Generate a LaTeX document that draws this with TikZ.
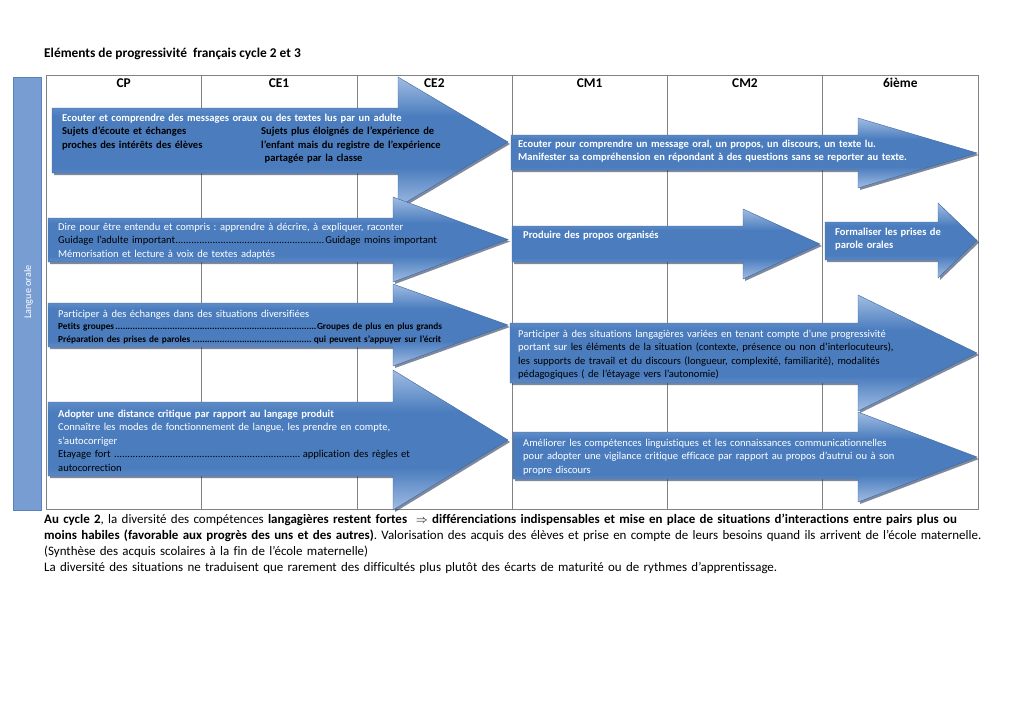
\documentclass[tikz,border=0pt]{standalone}
\usepackage{fontspec}
\setmainfont{Carlito}[Ligatures=NoCommon]
\frenchspacing
\usetikzlibrary{calc}
\definecolor{fleche}{RGB}{75,125,190}
\definecolor{flecheclaire}{RGB}{160,188,226}
\definecolor{flechebord}{RGB}{62,102,160}
\definecolor{ombre}{RGB}{40,58,92}
\definecolor{barre}{RGB}{120,157,210}
\definecolor{barrebord}{RGB}{92,130,188}
\definecolor{grille}{RGB}{130,130,130}
\pgfdeclareverticalshading{degrade}{100bp}{color(0bp)=(flecheclaire); color(25bp)=(flecheclaire); color(40bp)=(fleche); color(60bp)=(fleche); color(75bp)=(flecheclaire); color(100bp)=(flecheclaire)}

\newcommand\petit{\fontsize{10.55}{13.4}\selectfont}
\newcommand\normale{\fontsize{12.95}{16.3}\selectfont}
\newcommand\grand{\fontsize{13.4}{16.3}\selectfont}
\newcommand\minuscule{\fontsize{9.3}{12.5}\selectfont}
% ligne pointillee de largeur fixe
\newcommand\ligne[3]{\leavevmode\hbox to #1{#2\leaders\hbox{.}\hfill #3}}
% fleche: x0, haut, bas, base de la pointe, haut pointe, bas pointe, x pointe
\newcommand\fleche[7]{%
	\fill[ombre, opacity=0.6, xshift=2pt, yshift=-2pt] (#1,#2) -- (#4,#2) -- (#4,#5) -- (#7,{(#5+#6)/2}) -- (#4,#6) -- (#4,#3) -- (#1,#3) -- cycle;
	\shade[draw=flechebord, shading=degrade] (#1,#2) -- (#4,#2) -- (#4,#5) -- (#7,{(#5+#6)/2}) -- (#4,#6) -- (#4,#3) -- (#1,#3) -- cycle;
}

\begin{document}
\begin{tikzpicture}[x=1pt, y=-1pt,
	texte/.style={anchor=base west, inner sep=0pt, text width=#1, align=left, font=\petit, text=white},
	texte/.default=430pt,
	titre/.style={anchor=base, inner sep=0pt, font=\grand\bfseries}]

	\useasboundingbox (0,0) rectangle (1024,725);

	\node[titre, anchor=base west] (titre) at (44,57) {Eléments de progressivité~ français cycle 2 et 3};

	% barre laterale
	\draw[draw=barrebord, fill=barre] (13,77) rectangle (41,510);
	\node[rotate=90, text=white, font=\fontsize{10.2}{11}\selectfont] (langue) at (28.5,292) {Langue orale};

	% tableau
	\draw[grille] (46,75) rectangle (978,509);
	\foreach \x in {201,357,512,667,822}
		\draw[grille] (\x,75) -- (\x,509);
	\foreach \niveau [count=\i] in {CP,CE1,CE2,CM1,CM2,6ième}
		\node[titre] (niveau\i) at ({46+155.33*(\i-0.5)},87.5) {\niveau};

	% fleches cycle 2
	\fleche{52}{108}{173}{398}{77}{207}{508}
	\fleche{48}{218}{262}{393}{197}{282}{508}
	\fleche{48}{303}{347}{393}{284}{366}{508}
	\fleche{48}{402}{476}{393}{370}{510}{508}
	% fleches cycle 3
	\fleche{511}{135}{170}{858}{118}{188}{977}
	\fleche{512}{226}{262}{743}{209}{279}{820}
	\fleche{825}{222}{260}{938}{203}{278}{977}
	\fleche{510}{323}{383}{858}{295}{411}{977}
	\fleche{513}{432}{479}{858}{412}{502}{977}

	\node[texte] (ecouter) at (62,121.5) {\textbf{Ecouter et  comprendre des messages oraux ou des textes lus par un adulte}\\
		\color{black}\bfseries Sujets d’écoute et échanges\\ proches des intérêts des élèves};
	\node[texte=220pt, text=black, font=\petit\bfseries] (sujets) at (261,134.9) {Sujets plus éloignés de l’expérience de\\ l’enfant mais du registre de l’expérience\\ \ partagée par la  classe};
	\node[texte] (dire) at (58,230.5) {Dire pour être entendu et compris : apprendre à décrire, à expliquer, raconter\\
		{\color{black}\ligne{379pt}{Guidage l’adulte  important}{Guidage moins important}}\\
		Mémorisation et lecture à voix de textes adaptés};
	\node[texte] (participer) at (58,317.5) {Participer à des échanges dans des situations diversifiées};
	\node[texte, text=black, font=\minuscule\bfseries] (groupes) at (58,329.5) {\ligne{384pt}{Petits groupes}{Groupes de plus en plus grands}\\
		\ligne{383pt}{Préparation des prises de paroles}{qui peuvent s’appuyer sur l’écrit}};
	\node[texte] (adopter) at (58,417.5) {\textbf{Adopter une distance critique par rapport au langage produit}\\
		Connaître  les modes de fonctionnement de langue, les prendre en compte,\\ s’autocorriger\\
		\color{black}\ligne{352pt}{Etayage fort }{application des règles et}\\ autocorrection};

	\node[texte, font=\petit\bfseries] (comprendre) at (518,147.5) {Ecouter pour comprendre un message oral, un propos, un discours, un texte lu.\\
		Manifester sa compréhension en répondant à des questions sans se reporter au texte.};
	\node[texte, font=\petit\bfseries] (produire) at (523,238.5) {Produire des propos organisés};
	\node[texte=120pt, font=\petit\bfseries] (formaliser) at (835,235.5) {Formaliser les prises de\\ parole orales};
	\node[texte] (situations) at (518,337.5) {Participer à des situations langagières variées  en tenant compte d’une progressivité\\
		portant sur \color{black}les éléments de la situation (contexte, présence ou non d’interlocuteurs),\\
		les supports de travail et du  discours (longueur, complexité, familiarité), modalités\\
		pédagogiques ( de l’étayage vers l’autonomie)};
	\node[texte] (ameliorer) at (523,446.5) {Améliorer les compétences linguistiques  et les connaissances communicationnelles\\
		pour adopter une  vigilance critique efficace par rapport au propos d’autrui ou à son\\ propre discours};

	% texte du bas
	\node[texte=1000pt, font=\normale, text=black] (synthese) at (44,523) {\textbf{Au cycle 2}, la diversité des compétences \textbf{langagières restent fortes ~$\Rightarrow$ différenciations indispensables et mise en place de situations d’interactions entre pairs plus ou}\\
		\textbf{moins habiles (favorable aux progrès des uns et des autres)}. Valorisation des acquis des élèves et prise en compte de leurs besoins quand ils arrivent de l’école maternelle.\\
		(Synthèse des acquis scolaires à la fin de l’école maternelle)\\
		La diversité des situations ne traduisent que rarement des difficultés plus plutôt des écarts de maturité ou de rythmes d’apprentissage.};

\end{tikzpicture}
\end{document}
